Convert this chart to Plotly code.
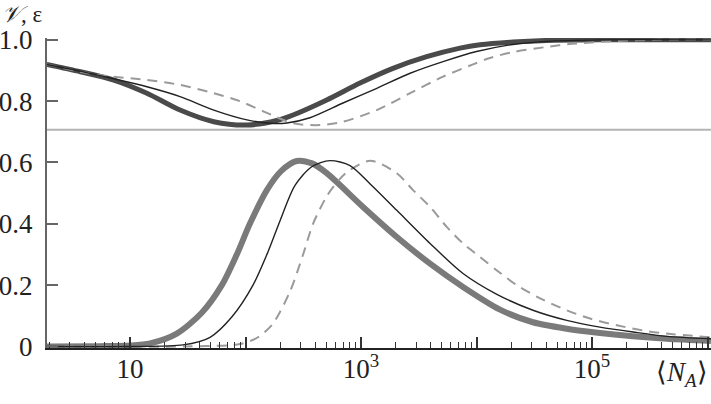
import plotly.graph_objects as go

# ---------------- data ----------------
# lower family (epsilon-like peaks)
n_thick_lo = [1.9, 5.5, 10, 14.9, 25.4, 41.8, 62.3, 84, 109, 153, 203, 277, 377, 505, 1040,
              2040, 3960, 7640, 15960, 30800, 60400, 117000, 227000, 444000, 1070000]
v_thick_lo = [0.0, 0.001, 0.003, 0.01, 0.042, 0.11, 0.2, 0.3, 0.4, 0.51, 0.572, 0.605,
              0.597, 0.565, 0.455, 0.357, 0.27, 0.194, 0.12, 0.079, 0.058, 0.044, 0.033, 0.025, 0.018]

n_thin_lo = [1.9, 10, 28.8, 49.3, 76, 116, 157, 199, 268, 374, 539, 803, 1200, 2040, 3960,
             7640, 15000, 30800, 60400, 117000, 227000, 444000, 1070000]
v_thin_lo = [0.0, 0.0, 0.005, 0.03, 0.096, 0.2, 0.31, 0.41, 0.525, 0.586, 0.606, 0.59, 0.53,
             0.444, 0.336, 0.238, 0.17, 0.118, 0.085, 0.063, 0.047, 0.033, 0.025]

n_dash_lo = [1.9, 30, 89.6, 128, 173, 243, 315, 384, 505, 617, 752, 1200, 2040, 2820, 3960,
             5520, 7640, 10700, 15000, 22300, 35500, 60400, 96200, 164000, 277000, 444000, 1070000]
v_dash_lo = [0.0, 0.0, 0.008, 0.03, 0.075, 0.18, 0.3, 0.4, 0.49, 0.535, 0.568, 0.606, 0.565,
             0.51, 0.455, 0.39, 0.336, 0.292, 0.248, 0.2, 0.157, 0.118, 0.091, 0.069, 0.052, 0.042, 0.03]

# upper family (visibility-like curves)
n_thick_hi = [1.9, 3.72, 7.23, 14.0, 27.1, 53.1, 103, 186, 258, 505, 980, 1890, 3700, 7190,
              10720, 20700, 40500, 117000, 1070000]
v_thick_hi = [0.92, 0.896, 0.869, 0.826, 0.771, 0.733, 0.722, 0.737, 0.755, 0.804, 0.859,
              0.907, 0.945, 0.973, 0.984, 0.993, 0.998, 1.0, 1.0]

n_thin_hi = [1.9, 3.7, 7.23, 14.0, 27.1, 53.1, 103, 163, 228, 361, 698, 1370, 2660, 5130,
             10000, 20700, 40500, 117000, 1070000]
v_thin_hi = [0.92, 0.898, 0.873, 0.847, 0.815, 0.771, 0.739, 0.728, 0.729, 0.746, 0.794,
             0.842, 0.891, 0.929, 0.962, 0.985, 0.995, 1.0, 1.0]

n_dash_hi = [1.9, 5.18, 14.0, 27.1, 53.1, 89.6, 144, 258, 441, 698, 1370, 2660, 5130, 9330,
             12800, 20700, 39000, 67000, 158000, 400000, 1070000]
v_dash_hi = [0.92, 0.886, 0.869, 0.853, 0.826, 0.8, 0.766, 0.728, 0.722, 0.733, 0.771, 0.826,
             0.88, 0.92, 0.94, 0.96, 0.976, 0.987, 0.996, 1.0, 1.0]

ref_level = 0.707
x_span = [1.9, 1070000]

y_ticks = [0, 0.2, 0.4, 0.6, 0.8, 1.0]
y_ticktext = ["0", "0.2", "0.4", "0.6", "0.8", "1.0"]
x_major = [10, 100, 1000, 10000, 100000, 1000000]
x_major_text = ["10", "", "10<sup>3</sup>", "", "10<sup>5</sup>", ""]
x_minor = [m * 10 ** k for k in range(0, 6) for m in range(2, 10)]

FONT = "'Times New Roman', 'Liberation Serif', serif"
SMOOTH = 0.8

fig = go.Figure()

fig.add_trace(go.Scatter(x=x_span, y=[ref_level, ref_level], mode="lines",
                         line=dict(color="#b4b4b4", width=2), hoverinfo="skip"))

# thick curves
fig.add_trace(go.Scatter(x=n_thick_hi, y=v_thick_hi, mode="lines",
                         line=dict(color="#4a4a4a", width=5, shape="spline", smoothing=SMOOTH)))
fig.add_trace(go.Scatter(x=n_thick_lo, y=v_thick_lo, mode="lines",
                         line=dict(color="#7a7a7a", width=6, shape="spline", smoothing=SMOOTH)))
# dashed curves
fig.add_trace(go.Scatter(x=n_dash_hi, y=v_dash_hi, mode="lines",
                         line=dict(color="#9a9a9a", width=2, dash="10px,7px", shape="spline", smoothing=SMOOTH)))
fig.add_trace(go.Scatter(x=n_dash_lo, y=v_dash_lo, mode="lines",
                         line=dict(color="#9a9a9a", width=2, dash="10px,7px", shape="spline", smoothing=SMOOTH)))
# thin curves
fig.add_trace(go.Scatter(x=n_thin_hi, y=v_thin_hi, mode="lines",
                         line=dict(color="#222222", width=1.4, shape="spline", smoothing=SMOOTH)))
fig.add_trace(go.Scatter(x=n_thin_lo, y=v_thin_lo, mode="lines",
                         line=dict(color="#222222", width=1.4, shape="spline", smoothing=SMOOTH)))

fig.update_layout(
    width=711, height=404,
    margin=dict(l=47, r=0, t=38, b=56),
    plot_bgcolor="white", paper_bgcolor="white",
    showlegend=False,
    font=dict(family=FONT, size=27, color="#222"),
    xaxis=dict(
        type="log", range=[0.281, 6.03],
        showline=True, linecolor="#222", linewidth=2,
        showgrid=False, zeroline=False,
        ticks="inside", ticklen=11, tickwidth=1.5, tickcolor="#333",
        tickmode="array", tickvals=x_major, ticktext=x_major_text,
        ticklabelstandoff=-4,
        tickfont=dict(family=FONT, size=27, color="#222"),
        minor=dict(ticks="inside", ticklen=6, tickwidth=1.4, tickcolor="#333",
                   tickmode="array", tickvals=x_minor, showgrid=False),
    ),
    yaxis=dict(
        range=[-0.005, 1.006],
        showline=True, linecolor="#666", linewidth=2,
        showgrid=False, zeroline=False,
        ticks="inside", ticklen=11, tickwidth=1.5, tickcolor="#666",
        tickmode="array", tickvals=y_ticks, ticktext=y_ticktext,
        ticklabelstandoff=7,
        tickfont=dict(family=FONT, size=27, color="#222"),
    ),
    annotations=[
        dict(text="<i>𝒱</i>, ε", xref="paper", yref="paper", x=-0.071, y=1.1226,
             xanchor="left", yanchor="top", showarrow=False,
             font=dict(family=FONT, size=23, color="#222")),
        dict(text="⟨<i>N</i><sub><i>A</i></sub>⟩", xref="paper", yref="paper",
             x=0.957, y=-0.085, xanchor="center", yanchor="middle", showarrow=False,
             font=dict(family=FONT, size=27, color="#222")),
    ],
)

fig.write_html("out.html")
